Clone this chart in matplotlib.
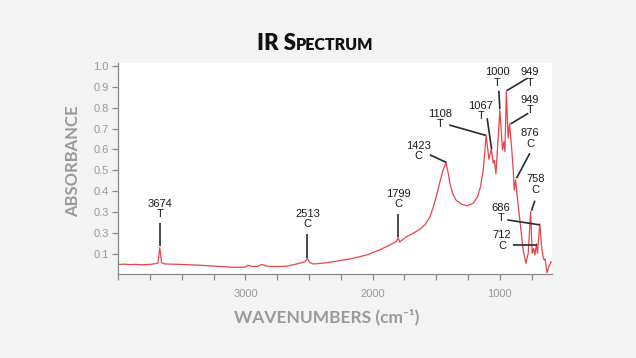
import matplotlib
matplotlib.use("Agg")
import matplotlib.pyplot as plt
from matplotlib.ticker import FixedLocator, FuncFormatter

# ---------------- data ----------------
wavenumber = [4000, 3950, 3908, 3860, 3829, 3790, 3751, 3712, 3688, 3674, 3660, 3633,
              3580, 3515, 3440, 3358, 3280, 3201, 3140, 3083, 3004, 2980, 2948, 2905,
              2870, 2839, 2790, 2729, 2670, 2611, 2560, 2535, 2513, 2493, 2467, 2420,
              2362, 2258, 2153, 2048, 1943, 1864, 1812, 1799, 1788, 1733, 1681, 1629,
              1589, 1550, 1524, 1497, 1471, 1446, 1423, 1406, 1393, 1372, 1346, 1301,
              1257, 1210, 1175, 1152, 1131, 1115, 1108, 1086, 1067, 1052, 1043, 1031,
              1000, 979, 968, 960, 949, 935, 924, 908, 895, 887, 876, 866,
              843, 817, 795, 777, 758, 746, 735, 725, 712, 704, 686, 672,
              660, 652, 644, 630, 615, 597]
absorbance = [0.050, 0.051, 0.049, 0.050, 0.048, 0.049, 0.050, 0.053, 0.057, 0.130, 0.058, 0.052,
              0.051, 0.050, 0.048, 0.046, 0.043, 0.040, 0.038, 0.036, 0.037, 0.046, 0.040, 0.041,
              0.050, 0.042, 0.040, 0.040, 0.042, 0.050, 0.058, 0.062, 0.078, 0.058, 0.052, 0.054,
              0.058, 0.068, 0.079, 0.095, 0.120, 0.143, 0.160, 0.178, 0.157, 0.183, 0.199, 0.218,
              0.239, 0.278, 0.323, 0.382, 0.446, 0.502, 0.537, 0.486, 0.438, 0.390, 0.358, 0.338,
              0.330, 0.343, 0.374, 0.422, 0.502, 0.613, 0.669, 0.553, 0.601, 0.534, 0.548, 0.483,
              0.786, 0.598, 0.637, 0.589, 0.877, 0.654, 0.722, 0.613, 0.502, 0.406, 0.454, 0.390,
              0.263, 0.119, 0.055, 0.103, 0.302, 0.103, 0.127, 0.095, 0.148, 0.103, 0.244, 0.135,
              0.087, 0.071, 0.076, 0.011, 0.039, 0.063]

ytick_values = [0.1, 0.2, 0.3, 0.4, 0.5, 0.6, 0.7, 0.8, 0.9, 1.0]
ytick_labels = ["0.1", "0.3", "0.3", "0.4", "0.5", "0.6", "0.7", "0.8", "0.9", "1.0"]
xtick_values = [4000, 3750, 3500, 3250, 3000, 2750, 2500, 2250, 2000, 1750, 1500, 1250, 1000, 750]
xtick_labeled = [3000, 2000, 1000]

# peak label texts
peak_texts = ["3674\nT", "2513\nC", "1799\nC", "1423\nC", "1108\nT", "1067\nT", "1000\nT",
              "949\nT", "949\nT", "876\nC", "758\nC", "686\nT", "712\nC"]
# layout: text centre (wn, abs), leader line start and end (wn, abs)
text_pos = [(3672, 0.315), (2513, 0.269), (1799, 0.362), (1642, 0.593), (1469, 0.744),
            (1149, 0.785), (1023, 0.944), (762, 0.944), (762, 0.811), (762, 0.652),
            (719, 0.432), (990, 0.296), (982, 0.164)]
line_from = [(3674, 0.248), (2513, 0.196), (1799, 0.291), (1550, 0.574), (1398, 0.717),
             (1100, 0.749), (1008, 0.881), (782, 0.941), (777, 0.773), (764, 0.582),
             (725, 0.355), (942, 0.263), (900, 0.143)]
line_to = [(3674, 0.140), (2513, 0.080), (1799, 0.180), (1421, 0.538), (1110, 0.667),
           (1065, 0.601), (1000, 0.792), (947, 0.881), (916, 0.722), (869, 0.462),
           (751, 0.307), (685, 0.239), (711, 0.143)]

# ---------------- figure ----------------
BG = "#f3f3f3"
fig = plt.figure(figsize=(6.36, 3.58), dpi=100, facecolor=BG)
ax = fig.add_axes([118.3 / 636, 1 - 274 / 358, (552 - 118.3) / 636, (274 - 62.7) / 358])
ax.set_facecolor("white")

ax.plot(wavenumber, absorbance, color="#e8434a", lw=0.9)

ax.set_xlim(4000, 590)
ax.set_ylim(0.004, 1.015)

for s in ("top", "right"):
    ax.spines[s].set_visible(False)
for s in ("left", "bottom"):
    ax.spines[s].set_color("#8a8a8a")
    ax.spines[s].set_linewidth(0.9)

ax.yaxis.set_major_locator(FixedLocator(ytick_values))
ax.set_yticklabels(ytick_labels)
ax.xaxis.set_major_locator(FixedLocator(xtick_values))
ax.xaxis.set_major_formatter(FuncFormatter(lambda v, p: f"{int(round(v))}" if int(round(v)) in xtick_labeled else ""))

ax.tick_params(axis="y", direction="out", length=4.5, width=0.9, color="#8a8a8a",
               labelcolor="#9a9a9a", labelsize=8, pad=2.5)
ax.tick_params(axis="x", direction="out", length=4, width=0.9, color="#8a8a8a",
               labelcolor="#9a9a9a", labelsize=8, pad=7)
for lab in ax.get_xticklabels() + ax.get_yticklabels():
    lab.set_fontfamily("Liberation Sans")

# peak annotations
for txt, tp, lf, lt in zip(peak_texts, text_pos, line_from, line_to):
    ax.text(tp[0], tp[1], txt, ha="center", va="center", fontsize=8, family="Liberation Sans",
            color="#1a1a1a", linespacing=1.02, clip_on=False)
    ax.plot([lf[0], lt[0]], [lf[1], lt[1]], color="#2a2a2a", lw=1.2, solid_capstyle="butt",
            clip_on=False)

# axis labels
fig.text(73 / 636, 1 - 161.5 / 358, "ABSORBANCE", rotation=90, ha="center", va="center",
         fontsize=12, family="Lato", fontweight="bold", color="#9a9a9a")
fig.text(326.5 / 636, 1 - 322.3 / 358, "WAVENUMBERS (cm\u207b\u00b9)", ha="center", va="baseline",
         fontsize=12.5, family="Lato", fontweight="bold", color="#9a9a9a")

# title in small caps
renderer = fig.canvas.get_renderer()
t1 = fig.text(0, 1 - 50.5 / 358, "IR S", ha="left", va="baseline", fontsize=16,
              family="Lato", fontweight="heavy", color="#111111")
t2 = fig.text(0, 1 - 50.5 / 358, "PECTRUM", ha="left", va="baseline", fontsize=11.5,
              family="Lato", fontweight="heavy", color="#111111")
w1 = t1.get_window_extent(renderer).width
w2 = t2.get_window_extent(renderer).width
total = w1 + w2
x0 = 315.5 - total / 2
t1.set_x(x0 / 636)
t2.set_x((x0 + w1) / 636)

fig.savefig("out.png", dpi=100, facecolor=BG)
